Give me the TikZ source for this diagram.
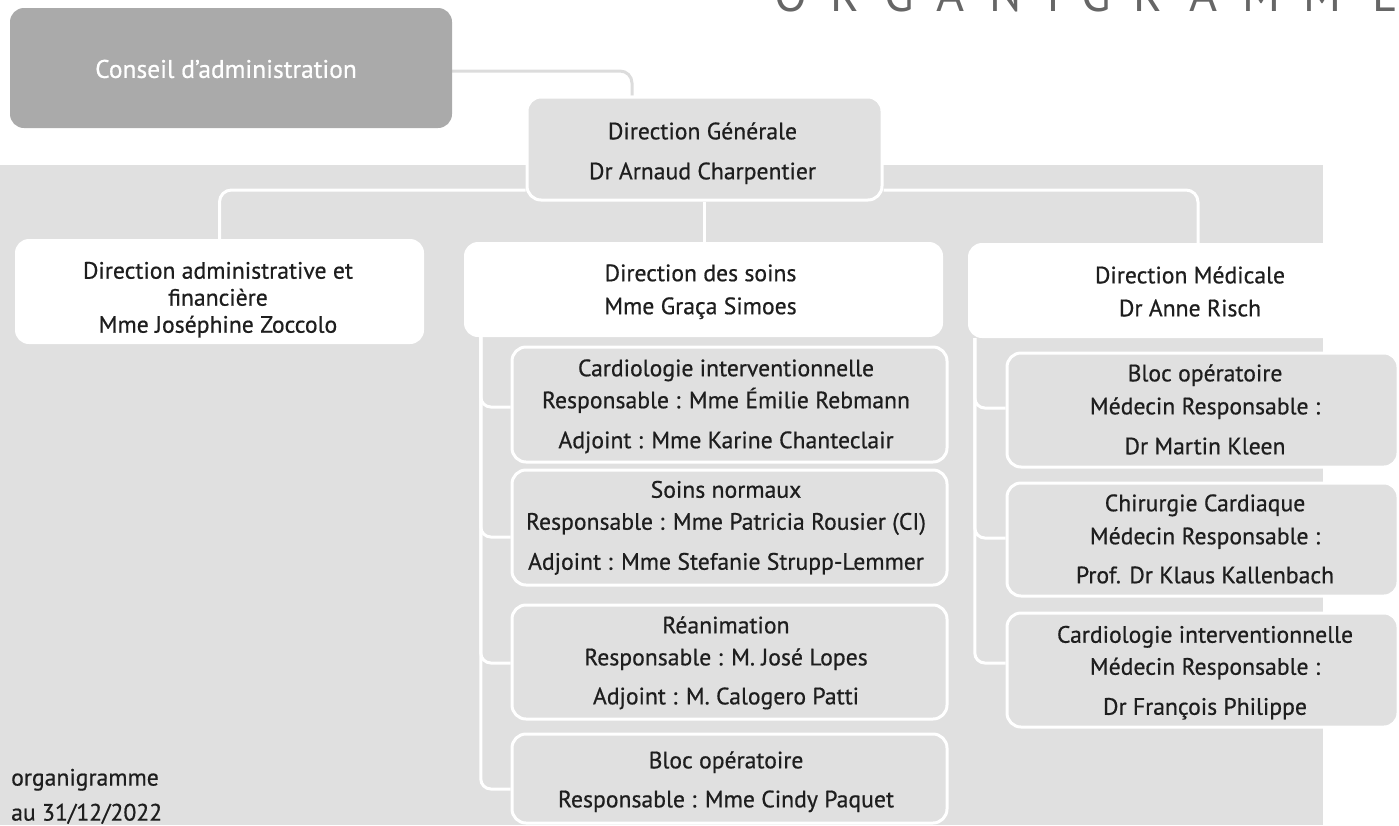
\documentclass[tikz,border=0pt]{standalone}
\usepackage{fontspec}
\setmainfont{PT Sans}[FakeBold=0.6]
\newfontfamily\titlefont{PT Sans}
\usetikzlibrary{calc,backgrounds}
\definecolor{bggray}{HTML}{E0E0E0}
\definecolor{cgray}{HTML}{AAAAAA}
\definecolor{lgray}{HTML}{DCDCDC}
\definecolor{ink}{HTML}{1E1E1E}
\definecolor{titlegray}{HTML}{666666}
\tikzset{
  boxbase/.style={rounded corners=14pt, inner sep=0pt},
  graybox/.style={boxbase, fill=bggray, draw=white, line width=3pt},
  whitebox/.style={boxbase, fill=white},
  conseilbox/.style={boxbase, fill=cgray},
  txt/.style={inner sep=0pt, align=center, text=ink,
    font=\fontsize{23.7}{32}\selectfont,
    execute at begin node={\rule{0pt}{22.4pt}},
    execute at end node={\rule[-9.6pt]{0pt}{9.6pt}}},
  wline/.style={draw=white, line width=3pt, rounded corners=12pt},
  bline/.style={draw=white, line width=3pt, rounded corners=10pt},
  cline/.style={draw=lgray, line width=3pt, rounded corners=12pt},
  foot/.style={inner sep=0pt, align=left, text=ink, font=\fontsize{23.7}{35}\selectfont,
    execute at begin node={\rule{0pt}{22.4pt}}},
  titletext/.style={inner sep=0pt, text=titlegray, font=\titlefont\fontsize{48}{50}\selectfont}
}
\begin{document}
\begin{tikzpicture}[x=1pt,y=-1pt]
\clip (0,0) rectangle (1399,825);

% title
\node[titletext, anchor=base west] (title) at (790.5,11)
  {\makebox[0pt]{O}\hspace{54.5pt}\makebox[0pt]{R}\hspace{54.5pt}\makebox[0pt]{G}\hspace{50.5pt}\makebox[0pt]{A}\hspace{55.5pt}\makebox[0pt]{N}\hspace{47.5pt}\makebox[0pt]{I}\hspace{43pt}\makebox[0pt]{G}\hspace{51.5pt}\makebox[0pt]{R}\hspace{55.5pt}\makebox[0pt]{A}\hspace{58pt}\makebox[0pt]{M}\hspace{61pt}\makebox[0pt]{M}\hspace{63pt}\makebox[0pt]{E}};

% boxes
\node[conseilbox, minimum width=442pt, minimum height=120pt] (conseil) at (231,68) {};
\node[graybox, minimum width=355pt, minimum height=103pt] (dg) at (704.5,148.5) {};
\node[whitebox, minimum width=409pt, minimum height=105pt] (admin) at (219.5,291.5) {};
\node[whitebox, minimum width=479pt, minimum height=95pt] (soins) at (703.5,289.5) {};
\node[whitebox, minimum width=444pt, minimum height=95pt] (med) at (1190,290.5) {};
\node[graybox, minimum width=435pt, minimum height=115pt] (sc1) at (729.5,404.5) {};
\node[graybox, minimum width=435pt, minimum height=115pt] (sc2) at (729.5,527.5) {};
\node[graybox, minimum width=435pt, minimum height=114pt] (sc3) at (729.5,662) {};
\node[graybox, minimum width=435pt, minimum height=89pt] (sc4) at (729.5,778.5) {};
\node[graybox, minimum width=391pt, minimum height=114pt] (mc1) at (1202.5,410) {};
\node[graybox, minimum width=391pt, minimum height=113pt] (mc2) at (1202.5,539.5) {};
\node[graybox, minimum width=391pt, minimum height=114pt] (mc3) at (1202.5,670) {};

% texts
\node[txt, text=white, font=\fontsize{25.5}{32}\selectfont] (conseilT) at ($(conseil.center)+(-5,3.5)$) {Conseil d’administration};
\node[txt] (dgT) at ($(dg.center)+(-2,7.1)$) {Direction Générale\\[8pt]Dr Arnaud Charpentier};
\node[txt, font=\fontsize{23.7}{27}\selectfont] (adminT) at ($(admin.center)+(-1.5,10.6)$)
  {Direction administrative et\\financière\\Mme Joséphine Zoccolo};
\node[txt] (soinsT) at ($(soins.center)+(-3,4.6)$) {Direction des soins\\[1pt]Mme Graça Simoes};
\node[txt] (medT) at ($(med.center)+(0,5.6)$) {Direction Médicale\\[1pt]Dr Anne Risch};
\node[txt] (sc1T) at ($(sc1.center)+(-3.5,4.1)$)
  {Cardiologie interventionnelle\\Responsable : Mme Émilie Rebmann\\[8pt]Adjoint : Mme Karine Chanteclair};
\node[txt] (sc2T) at ($(sc2.center)+(-3.5,2.6)$)
  {Soins normaux\\Responsable : Mme Patricia Rousier (CI)\\[8pt]Adjoint : Mme Stefanie Strupp-Lemmer};
\node[txt] (sc3T) at ($(sc3.center)+(-3.5,3.1)$)
  {Réanimation\\Responsable : M. José Lopes\\[7pt]Adjoint : M. Calogero Patti};
\node[txt] (sc4T) at ($(sc4.center)+(-3.5,5.6)$)
  {Bloc opératoire\\[7pt]Responsable : Mme Cindy Paquet};
\node[txt] (mc1T) at ($(mc1.center)+(2.5,4.1)$)
  {Bloc opératoire\\[1pt]Médecin Responsable :\\[8pt]Dr Martin Kleen};
\node[txt] (mc2T) at ($(mc2.center)+(2.5,4.1)$)
  {Chirurgie Cardiaque\\[1pt]Médecin Responsable :\\[7pt]Prof. Dr Klaus Kallenbach};
\node[txt] (mc3T) at ($(mc3.center)+(2.5,5.1)$)
  {Cardiologie interventionnelle\\Médecin Responsable :\\[8pt]Dr François Philippe};

\node[foot, anchor=north west] (foot) at (11,768.6) {organigramme\\au 31/12/2022};

% background and connectors
\begin{scope}[on background layer]
  \fill[bggray] (0,165) rectangle (1323,825);
  \draw[cline] ($(conseil.east)+(0,3)$) -| ($(dg.north)+(-72.5,0)$);
  \draw[wline] ($(dg.west)+(0,41.5)$) -| (admin.north);
  \draw[wline] ($(dg.east)+(0,41.5)$) -| ($(med.north)+(8,0)$);
  \draw[wline] (dg.south) -- (dg.south |- soins.north);
  \draw[bline] ($(soins.south west)+(17,0)$) |- ($(sc1.west)+(0,2.5)$);
  \draw[bline] ($(soins.south west)+(17,0)$) |- ($(sc2.west)+(0,9.5)$);
  \draw[bline] ($(soins.south west)+(17,0)$) |- ($(sc3.west)+(0,1)$);
  \draw[bline] ($(soins.south west)+(17,0)$) |- ($(sc4.west)+(0,10.5)$);
  \draw[bline] ($(med.south west)+(7,0)$) |- ($(mc1.west)+(0,-2)$);
  \draw[bline] ($(med.south west)+(7,0)$) |- ($(mc2.west)+(0,-1.5)$);
  \draw[bline] ($(med.south west)+(7,0)$) |- ($(mc3.west)+(0,-7)$);
\end{scope}
\end{tikzpicture}
\end{document}
